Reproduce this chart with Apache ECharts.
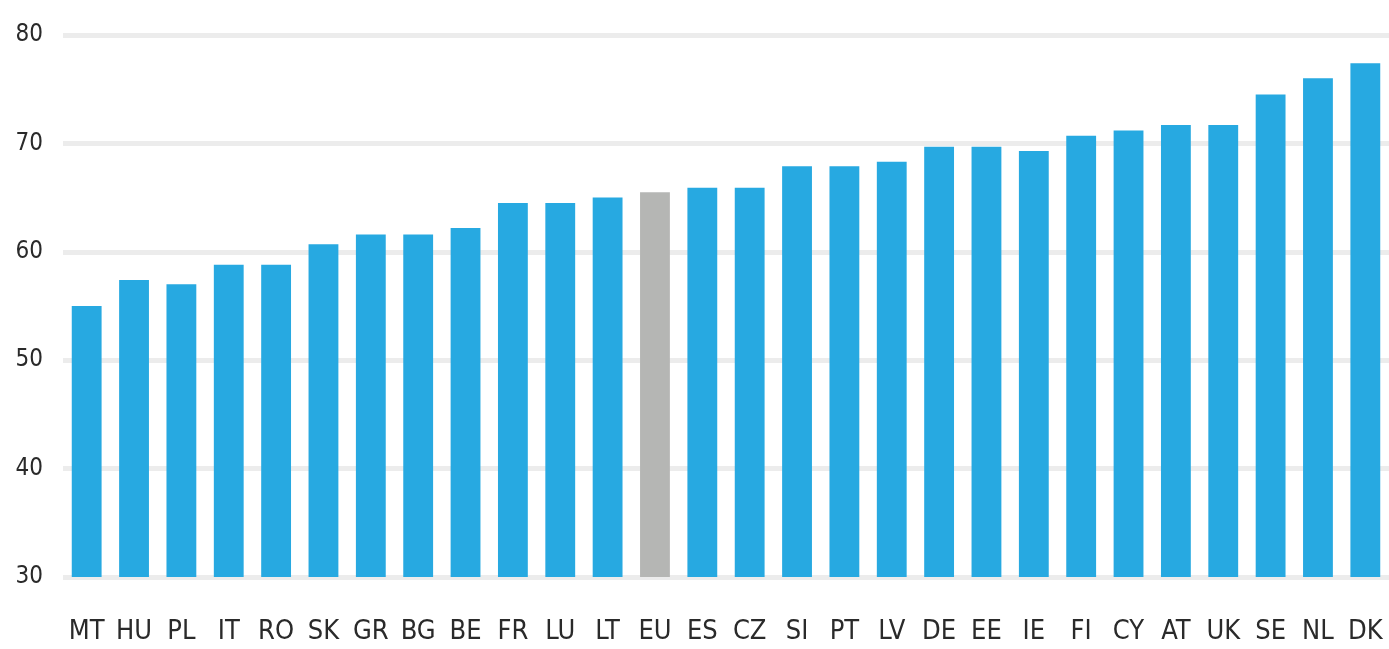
<!DOCTYPE html>
<html>
<head>
<meta charset="utf-8">
<script src="https://cdn.jsdelivr.net/npm/echarts@6/dist/echarts.min.js"></script>
<style>html,body{margin:0;padding:0;background:#fff}#c{width:1389px;height:649px}</style>
</head>
<body>
<div id="c"></div>
<script>
const categories = ['MT','HU','PL','IT','RO','SK','GR','BG','BE','FR','LU','LT','EU','ES','CZ','SI','PT','LV','DE','EE','IE','FI','CY','AT','UK','SE','NL','DK'];
const values = [55.0,57.4,57.0,58.8,58.8,60.7,61.6,61.6,62.2,64.5,64.5,65.0,65.5,65.9,65.9,67.9,67.9,68.3,69.7,69.7,69.3,70.7,71.2,71.7,71.7,74.5,76.0,77.4];
const highlight = 'EU';
const yTicks = [30,40,50,60,70,80];

const FONT = "'Liberation Sans Narrow','DejaVu Sans Condensed','Liberation Sans',sans-serif";
const chart = echarts.init(document.getElementById('c'));
chart.setOption({
  animation: false,
  grid: {left: 63, right: 0, top: 35, bottom: 72},
  xAxis: {
    type: 'category',
    data: categories,
    axisLine: {show: false},
    axisTick: {show: false},
    axisLabel: {color: '#2a2a2a', fontFamily: FONT, fontSize: 27, margin: 41}
  },
  yAxis: {
    type: 'value',
    min: yTicks[0], max: yTicks[yTicks.length-1], interval: 10,
    axisLine: {show: false},
    axisTick: {show: false},
    axisLabel: {color: '#2a2a2a', fontFamily: FONT, fontSize: 24, margin: 20, padding: [0,0,16,0]},
    splitLine: {lineStyle: {color: '#ececec', width: 5}}
  },
  series: [{
    type: 'bar',
    barWidth: '63%',
    data: categories.map((c, i) => ({
      value: values[i],
      itemStyle: {color: c === highlight ? '#b5b6b4' : '#27a9e1'}
    }))
  }]
});
</script>
</body>
</html>
